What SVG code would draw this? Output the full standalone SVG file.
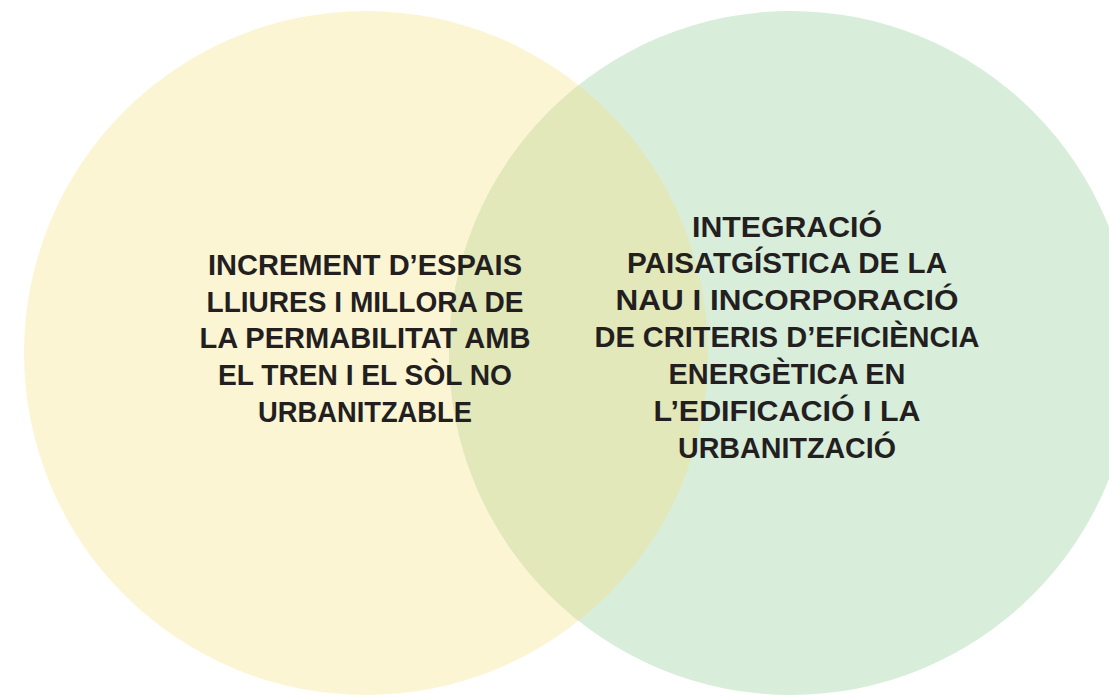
<svg xmlns="http://www.w3.org/2000/svg" width="1109" height="696" viewBox="0 0 1109 696">
<style>
.t{font-family:"Liberation Sans",Arial,sans-serif;font-weight:bold;font-size:29px;fill:#231f20;text-anchor:middle}
</style>
<defs>
<clipPath id="clipR"><circle cx="791" cy="353" r="342"/></clipPath>
</defs>
<rect width="1109" height="696" fill="#ffffff"/>
<g id="circle-left"><circle cx="366" cy="353" r="342" fill="#fcf5d4"/></g>
<g id="circle-right"><circle cx="791" cy="353" r="342" fill="#d9eddb"/></g>
<g id="overlap"><circle cx="366" cy="353" r="342" fill="#e2e8b9" clip-path="url(#clipR)"/></g>
<g id="connectors"></g>
<g id="label-left">
<text class="t" x="365" y="275" textLength="314" lengthAdjust="spacingAndGlyphs">INCREMENT D’ESPAIS</text>
<text class="t" x="365" y="312" textLength="317" lengthAdjust="spacingAndGlyphs">LLIURES I MILLORA DE</text>
<text class="t" x="365" y="348" textLength="331" lengthAdjust="spacingAndGlyphs">LA PERMABILITAT AMB</text>
<text class="t" x="365" y="385" textLength="294" lengthAdjust="spacingAndGlyphs">EL TREN I EL SÒL NO</text>
<text class="t" x="365" y="422" textLength="214" lengthAdjust="spacingAndGlyphs">URBANITZABLE</text>
</g>
<g id="label-right">
<text class="t" x="787" y="237" textLength="190" lengthAdjust="spacingAndGlyphs">INTEGRACIÓ</text>
<text class="t" x="787" y="273" textLength="320" lengthAdjust="spacingAndGlyphs">PAISATGÍSTICA DE LA</text>
<text class="t" x="787" y="310" textLength="343" lengthAdjust="spacingAndGlyphs">NAU I INCORPORACIÓ</text>
<text class="t" x="787" y="347" textLength="385" lengthAdjust="spacingAndGlyphs">DE CRITERIS D’EFICIÈNCIA</text>
<text class="t" x="787" y="384" textLength="237" lengthAdjust="spacingAndGlyphs">ENERGÈTICA EN</text>
<text class="t" x="787" y="421" textLength="267" lengthAdjust="spacingAndGlyphs">L’EDIFICACIÓ I LA</text>
<text class="t" x="787" y="458" textLength="218" lengthAdjust="spacingAndGlyphs">URBANITZACIÓ</text>
</g>
</svg>
